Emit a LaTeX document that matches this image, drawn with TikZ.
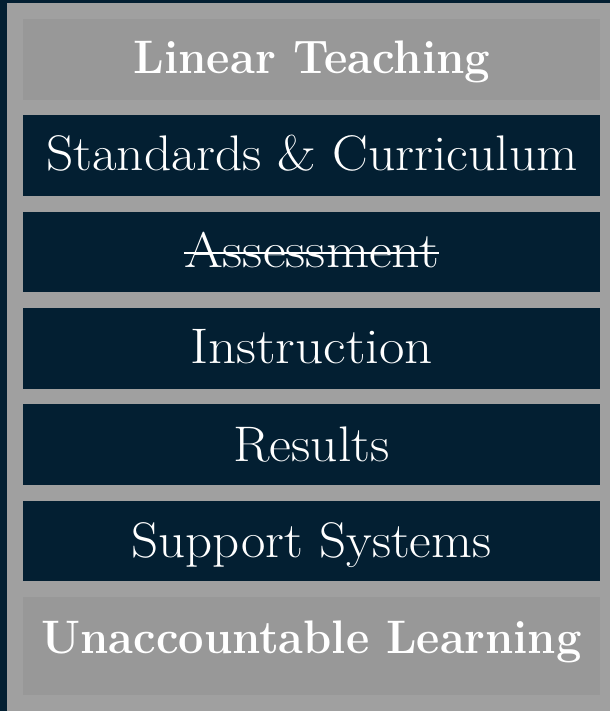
\documentclass[tikz,border=0pt]{standalone}
\usepackage{fontspec}
\usepackage{graphicx}
\definecolor{navy}{RGB}{3,31,50}
\definecolor{panelgray}{RGB}{160,160,160}
\definecolor{boxgray}{RGB}{152,152,152}
\newcommand{\sx}[2]{\scalebox{#1}[1]{#2}}
\begin{document}
\begin{tikzpicture}[x=1pt,y=-1pt,
  darkbox/.style={fill=navy,draw=none},
  graybox/.style={fill=boxgray,draw=none},
  reglabel/.style={text=white,anchor=base,inner sep=0pt,font=\fontsize{50}{56}\selectfont},
  boldlabel/.style={text=white,anchor=base,inner sep=0pt,font=\fontsize{47}{52}\selectfont\bfseries}]
\useasboundingbox (0,0) rectangle (610,711);
\fill[navy] (0,0) rectangle (610,711);
\fill[panelgray] (7,3) rectangle (610,711);
\fill[graybox] (23,19) rectangle (600,100);
\fill[darkbox] (23,115) rectangle (600,196);
\fill[darkbox] (23,212) rectangle (600,292);
\fill[darkbox] (23,308) rectangle (600,389);
\fill[darkbox] (23,404) rectangle (600,485);
\fill[darkbox] (23,501) rectangle (600,581);
\fill[graybox] (23,597) rectangle (600,695);
\node[boldlabel] (t1) at (312,74) {\sx{0.967}{Linear Teaching}};
\node[reglabel] (t2) at (312,171) {\sx{1.07}{Standards \& Curriculum}};
\node[reglabel] (t3) at (311.5,267) {\sx{1.12}{Assessment}};
\node[reglabel] (t4) at (311.5,363) {\sx{1.105}{Instruction}};
\node[reglabel] (t5) at (311.5,461) {\sx{1.07}{Results}};
\node[reglabel] (t6) at (311.5,557) {\sx{1.06}{Support Systems}};
\node[boldlabel] (t7) at (311.5,653) {\sx{0.962}{Unaccountable Learning}};
\draw[white,line width=2.2pt] ([yshift=14pt]t3.base west) -- ([yshift=14pt]t3.base east);
\end{tikzpicture}
\end{document}
